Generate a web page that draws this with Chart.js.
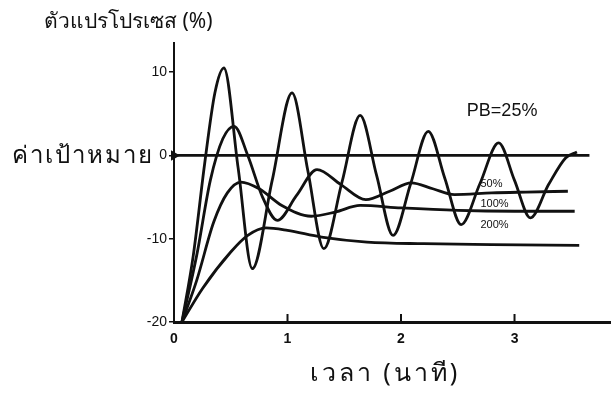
<!DOCTYPE html>
<html>
<head>
<meta charset="utf-8">
<script src="https://cdn.jsdelivr.net/npm/chart.js@4.4.0/dist/chart.umd.min.js"></script>
<style>
  html, body { margin: 0; padding: 0; background: #fff; overflow: hidden; }
  #wrap { width: 611px; height: 394px; overflow: hidden; }
</style>
</head>
<body>
<div id="wrap"><canvas id="myChart" width="617" height="394"></canvas></div>
<script>
// time (minutes) and process variable (%)
var pb25Time = [0.07, 0.17, 0.27, 0.36, 0.44, 0.565, 0.69, 0.865, 1.04, 1.18, 1.32, 1.48, 1.64, 1.785, 1.93, 2.085, 2.24, 2.385, 2.53, 2.695, 2.86, 3.0, 3.14, 3.3, 3.45, 3.55];
var pb25Value = [-20, -12, -1, 7.5, 10.5, -1.5, -13.6, -3, 7.5, -1.9, -11.2, -3.2, 4.8, -2.4, -9.6, -3.4, 2.9, -2.7, -8.3, -3.4, 1.5, -3, -7.5, -3.5, -0.3, 0.4];

var pb50Time = [0.07, 0.2, 0.32, 0.43, 0.53, 0.65, 0.78, 0.91, 1.08, 1.26, 1.47, 1.69, 1.9, 2.09, 2.28, 2.47, 2.8, 3.1, 3.47];
var pb50Value = [-20, -12, -3, 2, 3.5, 0, -5, -7.8, -4.8, -1.7, -3.5, -5.3, -4.3, -3.3, -4, -4.7, -4.5, -4.4, -4.3];

var pb100Time = [0.07, 0.2, 0.35, 0.47, 0.59, 0.75, 0.95, 1.21, 1.42, 1.64, 2.0, 2.5, 3.0, 3.53];
var pb100Value = [-20, -15, -8, -4.5, -3.2, -4, -6, -7.3, -6.8, -6, -6.3, -6.6, -6.7, -6.7];

var pb200Time = [0.07, 0.25, 0.5, 0.65, 0.81, 1.0, 1.3, 1.7, 2.2, 2.8, 3.57];
var pb200Value = [-20, -16, -11.6, -9.6, -8.7, -9, -9.8, -10.4, -10.6, -10.7, -10.8];

var setpointTime = [0, 3.66];
var setpointValue = [0, 0];

var yTicks = [10, 0, -10, -20];
var xTicks = [0, 1, 2, 3];

var seriesLabels = ["PB=25%", "50%", "100%", "200%"];
var labelAt = [[2.58, 5.3], [2.7, -3.4], [2.7, -5.8], [2.7, -8.4]];

var yTitle = "ตัวแปรโปรเซส (%)";
var xTitle = "เวลา (นาที)";
var setpointText = "ค่าเป้าหมาย";

function toPoints(t, v) {
  var out = [];
  for (var i = 0; i < t.length; i++) out.push({ x: t[i], y: v[i] });
  return out;
}

var thai = "'Noto Sans', 'DejaVu Sans', sans-serif";

function lineSet(t, v) {
  return {
    data: toPoints(t, v),
    borderColor: "#111",
    borderWidth: 2.8,
    pointRadius: 0,
    cubicInterpolationMode: "monotone",
    fill: false,
  };
}

// texts and the upward x tick marks
var textPlugin = {
  id: "texts",
  afterDraw: function (chart) {
    var c = chart.ctx;
    var xs = chart.scales.x;
    var ys = chart.scales.y;
    var bottom = chart.chartArea.bottom;
    c.save();

    c.strokeStyle = "#111";
    c.lineWidth = 2;
    for (var k = 1; k < xTicks.length; k++) {
      var px = xs.getPixelForValue(xTicks[k]);
      c.beginPath();
      c.moveTo(px, bottom);
      c.lineTo(px, bottom - 8);
      c.stroke();
    }

    c.fillStyle = "#111";
    c.textBaseline = "middle";

    c.font = "21px " + thai;
    c.textAlign = "left";
    c.fillText(yTitle, 44, 22);

    c.font = "24px " + thai;
    c.textAlign = "right";
    c.letterSpacing = "2px";
    c.fillText(setpointText, 154, ys.getPixelForValue(0) + 1);

    c.font = "25px " + thai;
    c.textAlign = "center";
    c.letterSpacing = "3px";
    c.fillText(xTitle, 385, 374);
    c.letterSpacing = "0px";

    for (var i = 0; i < seriesLabels.length; i++) {
      c.font = (i == 0 ? "18px " : "11px ") + "'Liberation Sans Narrow', 'Liberation Sans', sans-serif";
      c.textAlign = "left";
      c.fillText(seriesLabels[i], xs.getPixelForValue(labelAt[i][0]), ys.getPixelForValue(labelAt[i][1]));
    }
    c.restore();
  },
};

var setpoint = lineSet(setpointTime, setpointValue);
setpoint.pointRadius = [6, 0];
setpoint.pointStyle = "triangle";
setpoint.rotation = 90;
setpoint.pointBackgroundColor = "#111";
setpoint.pointBorderWidth = 0;
setpoint.clip = false;

var ctx = document.getElementById("myChart").getContext("2d");
var myChart = new Chart(ctx, {
  type: "line",
  data: {
    datasets: [
      setpoint,
      lineSet(pb25Time, pb25Value),
      lineSet(pb50Time, pb50Value),
      lineSet(pb100Time, pb100Value),
      lineSet(pb200Time, pb200Value),
    ],
  },
  options: {
    responsive: false,
    animation: false,
    layout: { padding: { top: 43, right: 0, bottom: 0, left: 0 } },
    plugins: { legend: { display: false }, tooltip: { enabled: false } },
    scales: {
      x: {
        type: "linear",
        min: 0,
        max: 3.85,
        afterBuildTicks: function (scale) {
          scale.ticks = xTicks.map(function (v) { return { value: v }; });
        },
        afterFit: function (scale) { scale.height = 72; },
        grid: { drawOnChartArea: false, drawTicks: false },
        border: { color: "#111", width: 3 },
        ticks: {
          color: "#111",
          padding: 9,
          maxRotation: 0,
          font: { family: "'Liberation Sans', sans-serif", size: 14, weight: "bold" },
        },
      },
      y: {
        type: "linear",
        min: -20,
        max: 13.5,
        afterBuildTicks: function (scale) {
          scale.ticks = yTicks.map(function (v) { return { value: v }; });
        },
        afterFit: function (scale) { scale.width = 174; },
        grid: { drawOnChartArea: false, color: "#111", tickLength: 5, lineWidth: 1.5 },
        border: { color: "#111", width: 2 },
        ticks: {
          color: "#111",
          padding: 2,
          font: { family: "'Liberation Sans', sans-serif", size: 14 },
        },
      },
    },
  },
  plugins: [textPlugin],
});
</script>
</body>
</html>
